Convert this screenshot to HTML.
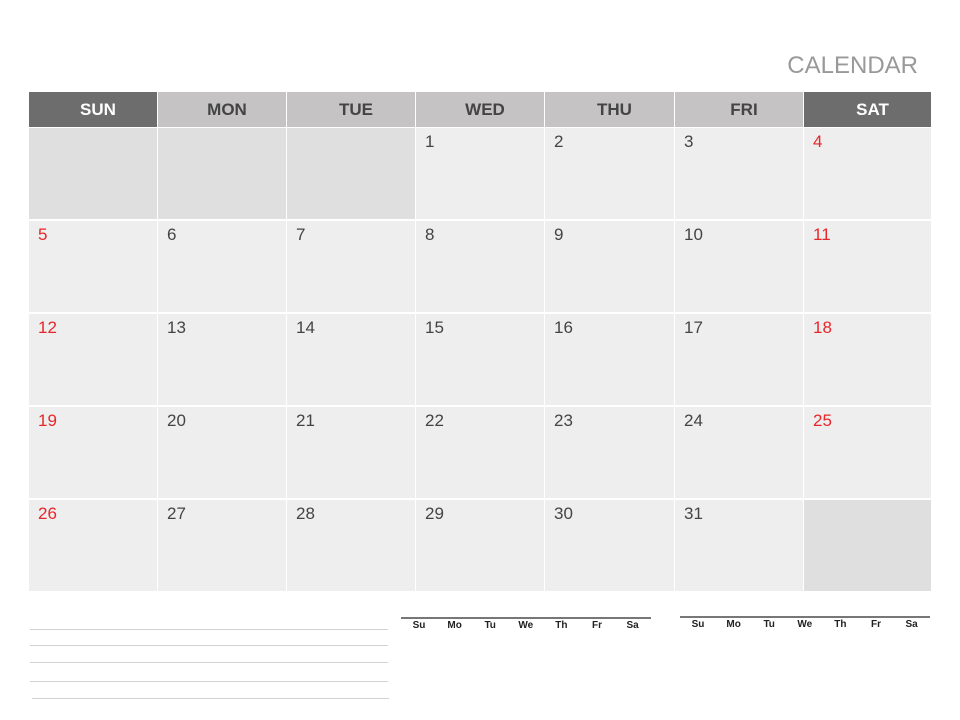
<!DOCTYPE html>
<html><head><meta charset="utf-8"><style>
body{margin:0;width:960px;height:720px;background:#fff;position:relative;overflow:hidden;font-family:"Liberation Sans",sans-serif}
.a{position:absolute;box-sizing:border-box}
.h{font-weight:bold;font-size:17px;text-align:center;line-height:35px;color:#444;background:#c5c3c4;padding-left:10px}
.h.we{background:#6d6d6d;color:#fff}
.c{background:#eeeeee;font-size:17px;color:#444;padding:4px 0 0 9px}
.c.e{background:#dfdfdf}
.c.r{color:#e8262a}
.ln{height:1px;background:#d2d2d2}
.mh{font-size:10px;font-weight:bold;color:#222;width:36px;text-align:center}
</style></head><body>
<div class="a" style="left:760px;top:52px;width:158px;text-align:right;font-size:24px;color:#999">CALENDAR</div>
<div id="grid"></div>
<div id="notes"></div>
<script>
const days=["SUN","MON","TUE","WED","THU","FRI","SAT"];
const firstDay=3, numDays=31;
const xs=[29,158,287,416,545,675,804,932];
const ys=[127,220,313,406,499,592];
const g=document.getElementById('grid');
days.forEach((d,i)=>{
 const e=document.createElement('div');
 e.className='a h'+(i==0||i==6?' we':'');
 e.style.cssText=`left:${xs[i]}px;top:92px;width:${xs[i+1]-xs[i]-1}px;height:35px`;
 e.textContent=d;
 
 
 g.appendChild(e);
});
for(let k=0;k<35;k++){
 const r=Math.floor(k/7),c=k%7,n=k-firstDay+1;
 const e=document.createElement('div');
 const empty=n<1||n>numDays;
 e.className='a c'+(empty?' e':'')+((c==0||c==6)?' r':'');
 e.style.cssText=`left:${xs[c]}px;top:${ys[r]+1}px;width:${xs[c+1]-xs[c]-1}px;height:${ys[r+1]-ys[r]-2}px`;
 if(!empty)e.textContent=n;
 
 
 g.appendChild(e);
}
const nt=document.getElementById('notes');
[629,645,662,681,698].forEach((y,i)=>{
 const e=document.createElement('div');
 e.className='a ln';e.style.cssText=`left:${i==4?32:30}px;top:${y}px;width:${i==4?357:358}px`;
 
 
 nt.appendChild(e);
});
const mini=["Su","Mo","Tu","We","Th","Fr","Sa"];
[[401,617,250],[680,616,250]].forEach(([x,y,w],m)=>{
 const b=document.createElement('div');
 b.className='a';b.style.cssText=`left:${x}px;top:${y}px;width:${w}px;height:2px;background:#777`;
 
 
 nt.appendChild(b);
 mini.forEach((d,i)=>{
  const e=document.createElement('div');
  e.className='a mh';e.style.left=(x+i*35.6)+'px';e.style.top=(y+3)+'px';
  e.textContent=d;
  
  
  nt.appendChild(e);
 });
});
</script>
</body></html>
